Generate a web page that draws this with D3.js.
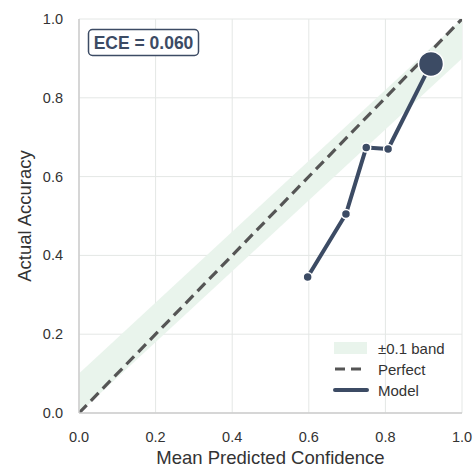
<!DOCTYPE html>
<html><head><meta charset="utf-8">
<script src="https://cdn.jsdelivr.net/npm/d3@7"></script>
<style>body{margin:0;background:#fff}svg{display:block}text{font-family:"Liberation Sans",Arial,sans-serif}</style>
</head><body>
<svg id="c" width="475" height="468"></svg>
<script>
const confidence = [0.597, 0.697, 0.750, 0.807, 0.919];
const accuracy = [0.345, 0.505, 0.674, 0.670, 0.886];
const markerSize = [4.5, 4.5, 4.5, 4.5, 12.5];
const ticks = [0.0, 0.2, 0.4, 0.6, 0.8, 1.0];
const ece = 0.060;
const bandX = [0, 1];
const bandWidth = 0.1;
const legendLabels = ["±0.1 band", "Perfect", "Model"];

const W = 475, H = 468;
const m = {l: 79, r: 13, t: 19, b: 55};
const svg = d3.select("#c");
const x = d3.scaleLinear().domain([0, 1]).range([m.l, W - m.r]);
const y = d3.scaleLinear().domain([0, 1]).range([H - m.b, m.t]);
const navy = "#3c4b64";

svg.append("defs").append("clipPath").attr("id", "clip").append("rect")
  .attr("x", x(0)).attr("y", y(1)).attr("width", x(1) - x(0)).attr("height", y(0) - y(1));

// grid
const g = svg.append("g");
ticks.forEach(t => {
  g.append("line").attr("x1", x(t)).attr("x2", x(t)).attr("y1", y(0)).attr("y2", y(1))
    .attr("stroke", "#e4e7e5").attr("stroke-width", 1);
  g.append("line").attr("y1", y(t)).attr("y2", y(t)).attr("x1", x(0)).attr("x2", x(1))
    .attr("stroke", "#e4e7e5").attr("stroke-width", 1);
});

const plot = svg.append("g").attr("clip-path", "url(#clip)");
// band (two endpoints, clipped to [0,1])
plot.append("path")
  .attr("d", d3.area().x(d => x(d)).y0(d => y(Math.max(0, d - bandWidth))).y1(d => y(Math.min(1, d + bandWidth)))(bandX))
  .attr("fill", "#e9f4ec");
// perfect
plot.append("line").attr("x1", x(0)).attr("y1", y(0)).attr("x2", x(1)).attr("y2", y(1))
  .attr("stroke", "#555555").attr("stroke-width", 3.2).attr("stroke-dasharray", "11,6");

// spines
svg.append("line").attr("x1", x(0)).attr("x2", x(0)).attr("y1", y(0)).attr("y2", y(1)).attr("stroke", "#cccccc").attr("stroke-width", 1.5);
svg.append("line").attr("x1", x(0)).attr("x2", x(1)).attr("y1", y(0)).attr("y2", y(0)).attr("stroke", "#cccccc").attr("stroke-width", 1.5);

// model line
const pts = confidence.map((c, i) => [c, accuracy[i], markerSize[i]]);
svg.append("path").attr("d", d3.line().x(d => x(d[0])).y(d => y(d[1]))(pts))
  .attr("fill", "none").attr("stroke", navy).attr("stroke-width", 4).attr("stroke-linejoin", "round").attr("stroke-linecap", "round");
svg.selectAll("circle.pt").data(pts).join("circle").attr("class", "pt")
  .attr("cx", d => x(d[0])).attr("cy", d => y(d[1])).attr("r", d => d[2])
  .attr("fill", navy).attr("stroke", "#fff").attr("stroke-width", 1.5);

// axes ticks
svg.append("g").selectAll("text").data(ticks).join("text")
  .attr("x", d => x(d)).attr("y", 442).attr("text-anchor", "middle")
  .attr("font-size", 14.5).attr("fill", "#333").text(d => d.toFixed(1));
svg.append("g").selectAll("text").data(ticks).join("text")
  .attr("x", 63).attr("y", d => y(d) + 5).attr("text-anchor", "end")
  .attr("font-size", 14.5).attr("fill", "#333").text(d => d.toFixed(1));

svg.append("text").attr("x", (x(0) + x(1)) / 2).attr("y", 464).attr("text-anchor", "middle")
  .attr("font-size", 18.5).attr("fill", "#333").text("Mean Predicted Confidence");
svg.append("text").attr("transform", `translate(31,${(y(0) + y(1)) / 2}) rotate(-90)`).attr("text-anchor", "middle")
  .attr("font-size", 18.5).attr("fill", "#333").text("Actual Accuracy");

// ECE box
svg.append("rect").attr("x", 88.5).attr("y", 29.5).attr("width", 110).attr("height", 26).attr("rx", 4)
  .attr("fill", "#fff").attr("stroke", navy).attr("stroke-width", 1.5);
svg.append("text").attr("x", 143.5).attr("y", 48.5).attr("text-anchor", "middle")
  .attr("font-size", 17.5).attr("font-weight", "bold").attr("fill", navy).text("ECE = " + ece.toFixed(3));

// legend
const lg = svg.append("g");
const ly = [348, 369, 390];
lg.append("rect").attr("x", 334).attr("y", ly[0] - 6).attr("width", 33).attr("height", 12).attr("fill", "#e9f4ec");
lg.append("line").attr("x1", 335).attr("x2", 367).attr("y1", ly[1]).attr("y2", ly[1]).attr("stroke", "#555").attr("stroke-width", 3).attr("stroke-dasharray", "10,6");
lg.append("line").attr("x1", 335).attr("x2", 367).attr("y1", ly[2]).attr("y2", ly[2]).attr("stroke", navy).attr("stroke-width", 4).attr("stroke-linecap", "round");
legendLabels.forEach((t, i) => lg.append("text").attr("x", 378).attr("y", ly[i] + 5.5).attr("font-size", 15).attr("fill", "#333").text(t));
</script>
</body></html>
